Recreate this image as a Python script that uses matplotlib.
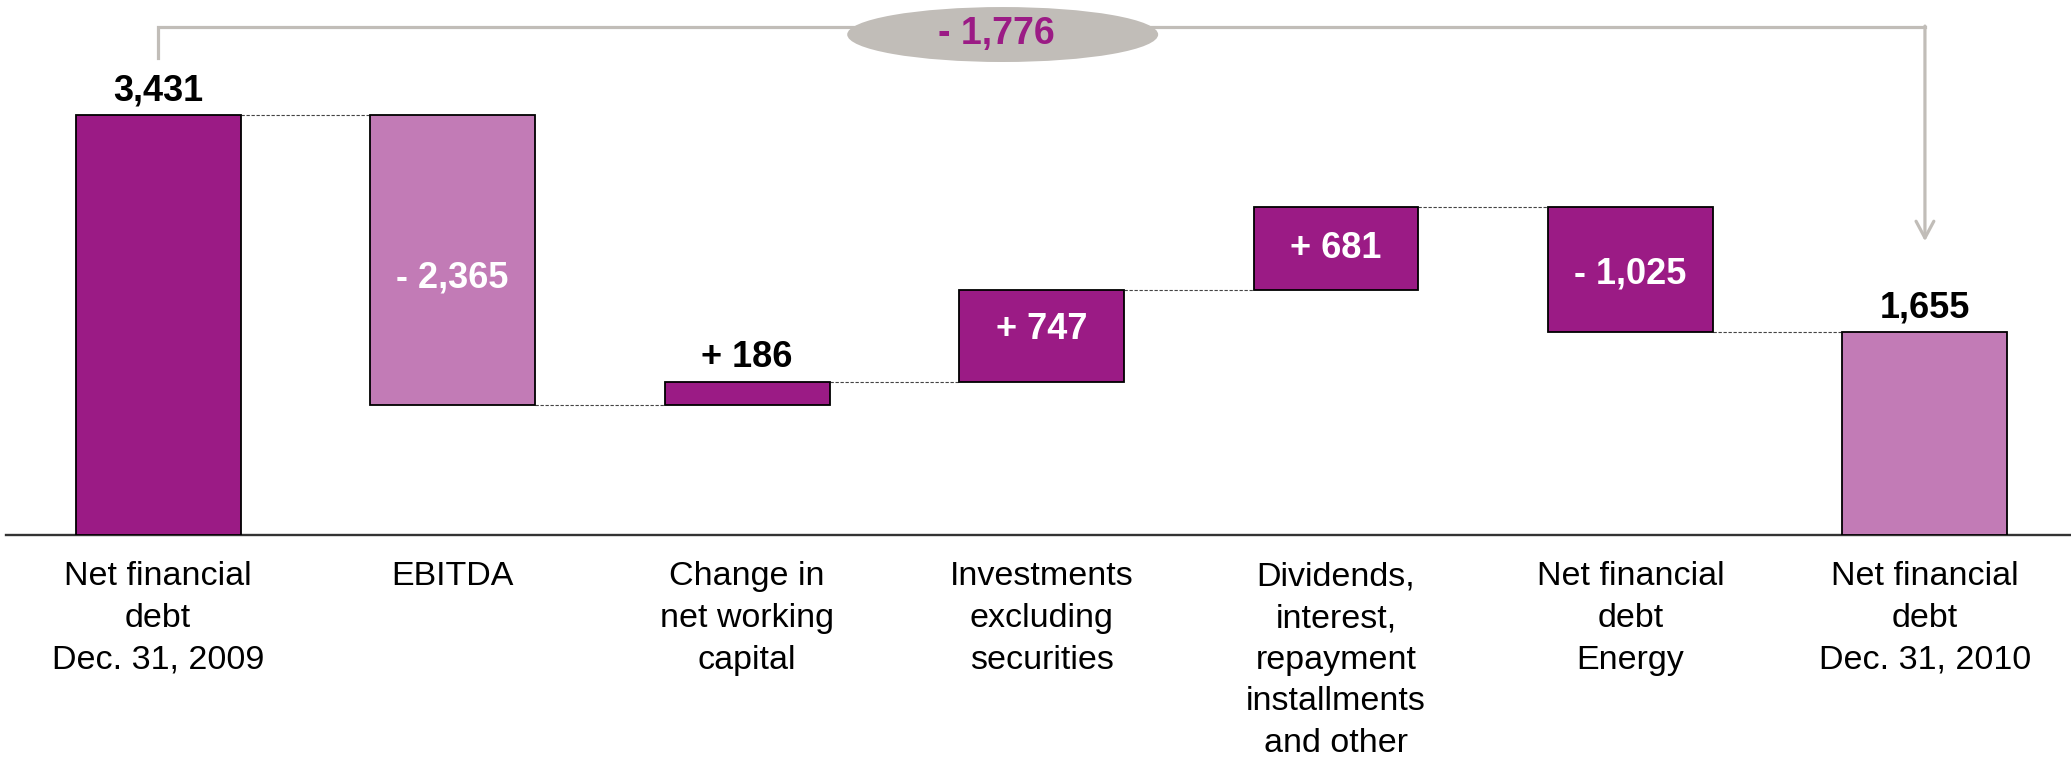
import matplotlib
matplotlib.use('Agg')
import matplotlib.pyplot as plt
from matplotlib.patches import Ellipse

# Data
categories = ['Net financial\ndebt\nDec. 31, 2009', 'EBITDA', 'Change in\nnet working\ncapital',
              'Investments\nexcluding\nsecurities', 'Dividends,\ninterest,\nrepayment\ninstallments\nand other',
              'Net financial\ndebt\nEnergy', 'Net financial\ndebt\nDec. 31, 2010']
start_value = 3431
changes = [-2365, 186, 747, 681, -1025]
end_value = 1655
total_change = -1776

dark = '#9B1B85'
light = '#C27BB6'
grey = '#C1BDB8'
bar_colors = [dark, light, dark, dark, dark, dark, light]
# small vertical nudges (points) for the value labels, as in the original slide
label_nudge = [0, -13, 0, 5, 0, -3, 0]

plt.rcParams['font.family'] = ['Liberation Sans', 'DejaVu Sans']

# Build waterfall geometry
bottoms = [0]
heights = [start_value]
levels = [start_value]
running = start_value
for c in changes:
    bottoms.append(running + c if c < 0 else running)
    heights.append(abs(c))
    running += c
    levels.append(running)
bottoms.append(0)
heights.append(end_value)

x = list(range(len(categories)))
width = 0.56

fig = plt.figure(figsize=(20.71, 7.59), dpi=100)
ax = fig.add_axes([0.003, 0.295, 0.997, 0.705])

ax.bar(x, heights, bottom=bottoms, width=width, color=bar_colors,
       edgecolor='black', linewidth=1.3, zorder=3)

# Dashed connectors
for i in range(len(categories) - 1):
    ax.plot([i + width / 2, i + 1 - width / 2], [levels[i], levels[i]],
            linestyle=(0, (3, 1.5)), color='#444444', linewidth=0.8, zorder=2)

# Value labels
labels = [f"{start_value:,}"] + [f"- {abs(c):,}" if c < 0 else f"+ {c:,}" for c in changes] + [f"{end_value:,}"]
for i, lab in enumerate(labels):
    inside = 0 < i < len(categories) - 1 and heights[i] > 400
    if inside:
        ax.annotate(lab, (i, bottoms[i] + heights[i] / 2), xytext=(0, label_nudge[i]),
                    textcoords='offset points', ha='center', va='center',
                    color='white', fontsize=26, fontweight='bold', zorder=4)
    else:
        ax.annotate(lab, (i, bottoms[i] + heights[i]), xytext=(0, 5), textcoords='offset points',
                    ha='center', va='bottom', color='black', fontsize=26, fontweight='bold', zorder=4)

# Bracket with total change
top_y = 4150
ax.plot([0, 0, len(categories) - 1], [3897, top_y, top_y], color=grey, linewidth=2.3,
        solid_joinstyle='miter', zorder=1, clip_on=False)
ax.annotate('', xy=(len(categories) - 1, 2400), xytext=(len(categories) - 1, top_y + 8),
            arrowprops=dict(arrowstyle='->,head_length=0.6,head_width=0.32', color=grey,
                            lw=2.3, mutation_scale=20, shrinkA=0, shrinkB=0), zorder=1)
ax.add_patch(Ellipse((2.868, 4089), width=1.056, height=449, facecolor=grey,
                     edgecolor='none', zorder=4, clip_on=False))
ax.text(2.845, 4095, f"- {abs(total_change):,}", ha='center', va='center', color=dark,
        fontsize=27, fontweight='bold', zorder=5)

# Axes styling
ax.set_xlim(-0.516, 6.496)
ax.set_ylim(0, 4371)
ax.set_xticks(x, categories)
ax.tick_params(axis='x', length=0, pad=19, labelsize=24.5)
plt.setp(ax.get_xticklabels(), linespacing=1.44)
ax.set_yticks([])
for s in ['top', 'left', 'right']:
    ax.spines[s].set_visible(False)
ax.spines['bottom'].set_color('#333333')
ax.spines['bottom'].set_linewidth(1.7)
ax.patch.set_alpha(0)

fig.savefig('out.png', dpi=100)
